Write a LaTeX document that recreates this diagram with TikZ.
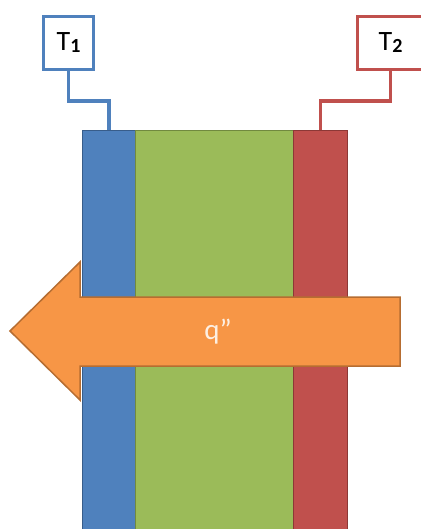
\documentclass[tikz,border=0pt]{standalone}
\usepackage{fontspec}
\setmainfont{Carlito}
\usetikzlibrary{positioning, calc}
\usepackage{xcolor}
\definecolor{wallblue}{HTML}{4F81BD}
\definecolor{wallblueline}{HTML}{385D8A}
\definecolor{wallgreen}{HTML}{9BBB59}
\definecolor{wallgreenline}{HTML}{71893F}
\definecolor{wallred}{HTML}{C0504D}
\definecolor{wallredline}{HTML}{8C3836}
\definecolor{flux}{HTML}{F79646}
\definecolor{fluxline}{HTML}{B66D31}
\definecolor{fluxtext}{HTML}{FDEFE2}
\newcommand{\tsub}[1]{\raisebox{-2pt}{\fontsize{20}{20}\selectfont\bfseries #1}}

\begin{document}
\begin{tikzpicture}[
    x=1pt, y=-1pt,
    layer/.style={rectangle, draw, line width=1.2pt, minimum height=400pt, inner sep=0pt, anchor=north west},
    tbox/.style={rectangle, draw, line width=3pt, fill=white, minimum height=53pt, inner sep=0pt, font=\fontsize{28}{30}\selectfont},
    wire/.style={line width=3.5pt}
]
\useasboundingbox (0,0) rectangle (420,529);
% wall layers
\node (blue) [layer, fill=wallblue, draw=wallblueline, minimum width=53pt] at (82,130) {};
\node (green) [layer, fill=wallgreen, draw=wallgreenline, minimum width=158pt] at (135,130) {};
\node (red) [layer, fill=wallred, draw=wallredline, minimum width=54pt] at (293,130) {};
% thermocouples
\node (t1) [tbox, draw=wallblue, minimum width=50pt] at (68.5,43) {T\tsub{1}};
\node (t2) [tbox, draw=wallred, minimum width=67pt] at (390.5,43) {T\tsub{2}\hspace{8pt}};
\draw [wire, wallblue] (t1.south) -- ++(0,30) -| (blue.north);
\draw [wire, wallred] (t2.south) -- ++(0,30) -| (red.north);
% heat flux
\draw [fill=flux, draw=fluxline, line width=1.5pt, line join=miter]
    (10,331) -- (80,262) -- (80,297) -- (400,297) -- (400,366) -- (80,366) -- (80,400) -- cycle;
\node (q) [text=fluxtext, font=\fontsize{29}{30}\selectfont] at (218,332) {q''};
\end{tikzpicture}
\end{document}
